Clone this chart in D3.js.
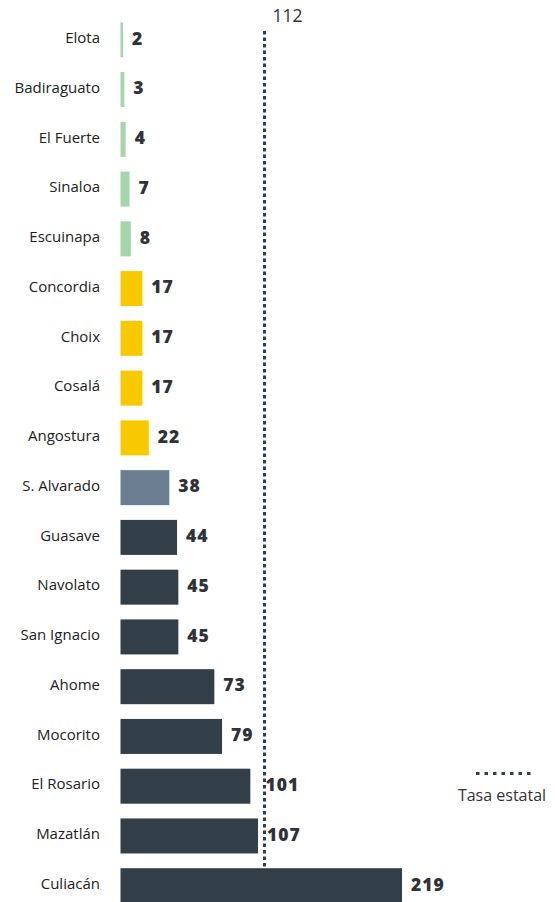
<!DOCTYPE html>
<html>
<head>
<meta charset="utf-8">
<script src="https://cdn.jsdelivr.net/npm/d3@7"></script>
<style>
  html, body { margin: 0; padding: 0; background: #fff; }
  svg { display: block; }
</style>
</head>
<body>
<svg id="chart" width="555" height="902"></svg>
<script>
const categories = ["Elota","Badiraguato","El Fuerte","Sinaloa","Escuinapa","Concordia","Choix","Cosalá","Angostura","S. Alvarado","Guasave","Navolato","San Ignacio","Ahome","Mocorito","El Rosario","Mazatlán","Culiacán"];
const values = [2,3,4,7,8,17,17,17,22,38,44,45,45,73,79,101,107,219];
const groups = ["low","low","low","low","low","mid","mid","mid","mid","alv","high","high","high","high","high","high","high","high"];
const stateRate = 112;
const stateRateLabel = "112";
const legendLabel = "Tasa estatal";

const colors = {low: "#a6d4ad", mid: "#f9c900", alv: "#6c7f91", high: "#323e48"};

const svg = d3.select("#chart");
const x0 = 120.5;
const x = d3.scaleLinear().domain([0, 219]).range([x0, 402]);
const step = 49.76;
const y = d3.scaleBand().domain(categories)
  .range([22.3 - (step - 35) / 2, 22.3 - (step - 35) / 2 + step * categories.length])
  .paddingInner((step - 35) / step).paddingOuter((step - 35) / step / 2);

const data = categories.map((c, i) => ({c, v: values[i], g: groups[i]}));

// bars
svg.append("g").selectAll("rect").data(data).join("rect")
  .attr("x", x0)
  .attr("y", d => y(d.c))
  .attr("width", d => x(d.v) - x0)
  .attr("height", y.bandwidth())
  .attr("fill", d => colors[d.g]);

// category labels
svg.append("g").selectAll("text").data(data).join("text")
  .attr("x", 100)
  .attr("y", d => y(d.c) + y.bandwidth() / 2 - 2)
  .attr("dy", "0.35em")
  .attr("text-anchor", "end")
  .attr("font-family", "'Open Sans', sans-serif")
  .attr("font-size", 15)
  .attr("fill", "#222")
  .text(d => d.c);

// state rate line
const lx = Math.round(x(stateRate)) + 0.5;
svg.append("line")
  .attr("x1", lx).attr("x2", lx)
  .attr("y1", 31).attr("y2", 867)
  .attr("stroke", "#323e48")
  .attr("stroke-width", 3)
  .attr("stroke-dasharray", "3.5,3");

svg.append("text")
  .attr("x", lx + 8)
  .attr("y", 22)
  .attr("font-family", "'Open Sans', sans-serif")
  .attr("font-size", 17.5)
  .attr("fill", "#333")
  .text(stateRateLabel);

// value labels
svg.append("g").selectAll("text").data(data).join("text")
  .attr("x", d => {
    let px = x(d.v) + 9;
    if (px > lx - 22 && px < lx + 2) px = lx + 1;
    return px;
  })
  .attr("y", d => y(d.c) + y.bandwidth() / 2 - 1.5)
  .attr("dy", "0.36em")
  .attr("font-family", "'Open Sans', sans-serif")
  .attr("font-weight", 800)
  .attr("font-size", 17.5)
  .attr("letter-spacing", 1)
  .attr("fill", "#2f3337")
  .text(d => d.v);

// legend
svg.append("line")
  .attr("x1", 476).attr("x2", 534)
  .attr("y1", 773.5).attr("y2", 773.5)
  .attr("stroke", "#323e48")
  .attr("stroke-width", 3)
  .attr("stroke-dasharray", "3.5,5");
svg.append("text")
  .attr("x", 502)
  .attr("y", 801)
  .attr("text-anchor", "middle")
  .attr("font-family", "'Open Sans', sans-serif")
  .attr("font-size", 16)
  .attr("fill", "#333")
  .text(legendLabel);
</script>
</body>
</html>
